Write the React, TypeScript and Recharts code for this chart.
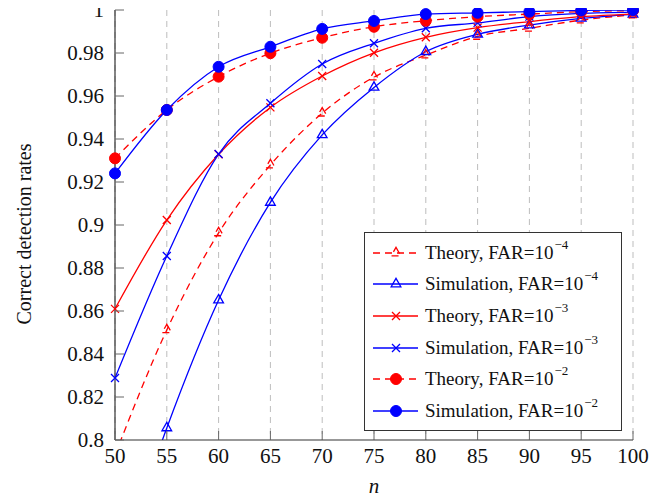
import React from 'react'
import { LineChart, Line, XAxis, YAxis, CartesianGrid } from 'recharts'

// sample sizes on the x axis
const N = [50, 55, 60, 65, 70, 75, 80, 85, 90, 95, 100]
const Y_TICKS = [0.8, 0.82, 0.84, 0.86, 0.88, 0.9, 0.92, 0.94, 0.96, 0.98, 1]

const theory4 = [0.793, 0.8512, 0.8963, 0.9279, 0.952, 0.9688, 0.979, 0.9877, 0.9915, 0.9953, 0.9977]
const sim4 = [0.735, 0.8056, 0.8651, 0.9105, 0.9419, 0.964, 0.9806, 0.9887, 0.993, 0.9961, 0.998]
const theory3 = [0.861, 0.9023, 0.9329, 0.9547, 0.9693, 0.9801, 0.9873, 0.9918, 0.9946, 0.9969, 0.9981]
const sim3 = [0.8288, 0.8856, 0.933, 0.9566, 0.9749, 0.9845, 0.9915, 0.994, 0.9969, 0.9984, 0.999]
const theory2 = [0.931, 0.9535, 0.969, 0.9799, 0.9871, 0.9922, 0.995, 0.9969, 0.9981, 0.9992, 0.9997]
const sim2 = [0.924, 0.9535, 0.9736, 0.9829, 0.9912, 0.9949, 0.9981, 0.9987, 0.9992, 0.9998, 1.0]

const RED = '#ff0000'
const BLUE = '#0000ff'
const FONT = '"Liberation Serif", "DejaVu Serif", serif'
const FRAME = '#333'
const TICK = '#666'
const DASH = '7 5'
const Y_MIN = 0.8

type Mark = 'tri' | 'x' | 'circle'
interface Series {
  key: string
  label: string
  exp: string
  values: number[]
  color: string
  dashed: boolean
  mark: Mark
}

// drawing order matters: simulation markers sit over theory ones
const SERIES: Series[] = [
  { key: 't4', label: 'Theory', exp: '−4', values: theory4, color: RED, dashed: true, mark: 'tri' },
  { key: 's4', label: 'Simulation', exp: '−4', values: sim4, color: BLUE, dashed: false, mark: 'tri' },
  { key: 't3', label: 'Theory', exp: '−3', values: theory3, color: RED, dashed: false, mark: 'x' },
  { key: 's3', label: 'Simulation', exp: '−3', values: sim3, color: BLUE, dashed: false, mark: 'x' },
  { key: 't2', label: 'Theory', exp: '−2', values: theory2, color: RED, dashed: true, mark: 'circle' },
  { key: 's2', label: 'Simulation', exp: '−2', values: sim2, color: BLUE, dashed: false, mark: 'circle' },
]

const data = N.map((n, i) => {
  const row: Record<string, number | null> = { n }
  SERIES.forEach((s) => {
    const v = s.values[i]
    row[s.key] = v
    // marks outside the plotted range are not drawn
    row[s.key + '_m'] = v >= Y_MIN ? v : null
  })
  return row
})

function Marker({ mark, cx, cy, color, dashed }: { mark: Mark; cx: number; cy: number; color: string; dashed: boolean }) {
  if (mark === 'circle') {
    return <circle cx={cx} cy={cy} r={5.5} fill={color} stroke={color} strokeWidth={1} />
  }
  if (mark === 'x') {
    const d = 4
    return (
      <path
        d={`M${cx - d},${cy - d}L${cx + d},${cy + d}M${cx - d},${cy + d}L${cx + d},${cy - d}`}
        stroke={color}
        strokeWidth={1.3}
        fill="none"
      />
    )
  }
  const r = 5.6
  const h = r * 0.866
  return (
    <path
      d={`M${cx},${cy - r}L${cx + h},${cy + r / 2}L${cx - h},${cy + r / 2}Z`}
      stroke={color}
      strokeWidth={1.3}
      fill="none"
      strokeDasharray={dashed ? DASH : undefined}
    />
  )
}

const fmtY = (v: number) => String(Number(v.toFixed(2)))

const LeftTick = (p: any) => (
  <g>
    <line x1={p.x} x2={p.x + 9} y1={p.y} y2={p.y} stroke={TICK} strokeWidth={1} />
    <text x={p.x - 11} y={p.y + 7} textAnchor="end" fontSize={21} fontFamily={FONT} fill="#111">
      {fmtY(p.payload.value)}
    </text>
  </g>
)

const RightTick = (p: any) => (
  <line x1={p.x} x2={p.x - 9} y1={p.y} y2={p.y} stroke={TICK} strokeWidth={1} />
)

const BottomTick = (p: any) => (
  <g>
    <line x1={p.x} x2={p.x} y1={p.y} y2={p.y - 9} stroke={TICK} strokeWidth={1} />
    <text x={p.x} y={p.y + 23} textAnchor="middle" fontSize={21} fontFamily={FONT} fill="#111">
      {p.payload.value}
    </text>
  </g>
)

const TopTick = (p: any) => (
  <line x1={p.x} x2={p.x} y1={p.y} y2={p.y + 9} stroke={TICK} strokeWidth={1} />
)

function LegendBox() {
  return (
    <div
      style={{
        position: 'absolute',
        left: 364,
        top: 232,
        width: 258,
        height: 199,
        boxSizing: 'border-box',
        border: `1px solid ${FRAME}`,
        background: '#fff',
        paddingTop: 4,
        fontFamily: FONT,
        fontSize: 19,
        color: '#111',
      }}
    >
      {SERIES.map((s) => (
        <div key={s.key} style={{ display: 'flex', alignItems: 'center', height: 31.6 }}>
          <svg width={60} height={20} style={{ flex: 'none' }}>
            <line
              x1={8}
              x2={53}
              y1={10}
              y2={10}
              stroke={s.color}
              strokeWidth={1.3}
              strokeDasharray={s.dashed ? DASH : undefined}
            />
            <Marker mark={s.mark} cx={31} cy={10} color={s.color} dashed={s.dashed} />
          </svg>
          <span style={{ whiteSpace: 'nowrap' }}>
            {s.label}, FAR=10
            <sup style={{ fontSize: 13, verticalAlign: 'top', position: 'relative', top: -5, marginLeft: 1 }}>
              {s.exp}
            </sup>
          </span>
        </div>
      ))}
    </div>
  )
}

export default function App() {
  return (
    <div style={{ position: 'relative', width: 670, height: 501, margin: '-8px 0 0 -8px' }}>
      <LineChart width={670} height={501} data={data} margin={{ top: 10, right: 37, bottom: 31, left: 0 }}>
        <CartesianGrid horizontal={false} stroke="#bdbdbd" strokeDasharray="6 5" />
        <XAxis
          dataKey="n"
          type="number"
          domain={[50, 100]}
          ticks={N}
          interval={0}
          height={30}
          tickSize={0}
          tickMargin={0}
          tick={BottomTick}
          axisLine={{ stroke: FRAME, strokeWidth: 1.2 }}
          label={{
            content: (props: any) => {
              const vb = props.viewBox
              return (
                <text
                  x={vb.x + vb.width / 2}
                  y={vb.y + 53}
                  textAnchor="middle"
                  fontSize={21}
                  fontStyle="italic"
                  fontFamily={FONT}
                  fill="#111"
                >
                  n
                </text>
              )
            },
          }}
        />
        <XAxis
          xAxisId="top"
          orientation="top"
          dataKey="n"
          type="number"
          domain={[50, 100]}
          allowDataOverflow
          ticks={N}
          interval={0}
          height={0}
          tickSize={0}
          tickMargin={0}
          tick={TopTick}
          axisLine={{ stroke: FRAME, strokeWidth: 1.2 }}
        />
        <YAxis
          type="number"
          domain={[Y_MIN, 1]}
          allowDataOverflow
          ticks={Y_TICKS}
          interval={0}
          width={115}
          tickSize={0}
          tickMargin={0}
          tick={LeftTick}
          axisLine={{ stroke: FRAME, strokeWidth: 1.2 }}
          label={{
            content: (props: any) => {
              const vb = props.viewBox
              const x = vb.x + 31
              const y = vb.y + vb.height / 2 + 9
              return (
                <text
                  x={x}
                  y={y}
                  transform={`rotate(-90 ${x} ${y})`}
                  textAnchor="middle"
                  fontSize={20}
                  fontFamily={FONT}
                  fill="#111"
                >
                  Correct detection rates
                </text>
              )
            },
          }}
        />
        <YAxis
          yAxisId="right"
          orientation="right"
          type="number"
          domain={[Y_MIN, 1]}
          ticks={Y_TICKS}
          interval={0}
          width={0}
          tickSize={0}
          tickMargin={0}
          tick={RightTick}
          axisLine={{ stroke: FRAME, strokeWidth: 1.2 }}
        />
        {SERIES.flatMap((s) => [
          <Line
            key={s.key}
            dataKey={s.key}
            type="monotone"
            stroke={s.color}
            strokeWidth={1.3}
            strokeDasharray={s.dashed ? DASH : undefined}
            dot={false}
            activeDot={false}
            isAnimationActive={false}
          />,
          <Line
            key={s.key + '_m'}
            yAxisId="right"
            dataKey={s.key + '_m'}
            stroke="none"
            activeDot={false}
            isAnimationActive={false}
            dot={(p: any) =>
              p.value == null || p.cy == null ? (
                <g key={`${s.key}-${p.index}`} />
              ) : (
                <Marker
                  key={`${s.key}-${p.index}`}
                  mark={s.mark}
                  cx={p.cx}
                  cy={p.cy}
                  color={s.color}
                  dashed={s.dashed}
                />
              )
            }
          />,
        ])}
      </LineChart>
      <LegendBox />
    </div>
  )
}
